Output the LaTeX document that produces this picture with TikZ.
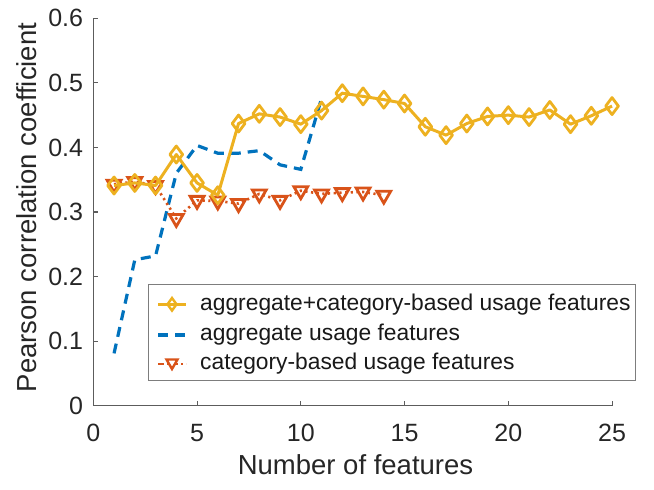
\documentclass[tikz,border=0pt]{standalone}
\usepackage{fontspec}
\setmainfont{Liberation Sans}
\usetikzlibrary{plotmarks}
\definecolor{morange}{HTML}{EDB120}
\definecolor{mblue}{HTML}{0072BD}
\definecolor{mred}{HTML}{D95319}
\definecolor{axgray}{HTML}{262626}
\tikzset{
  axisline/.style={draw=axgray!75, line width=1.1pt},
  ticklabel/.style={text=axgray, font=\fontsize{25}{28}\selectfont, inner sep=0pt},
  axislabel/.style={text=axgray, font=\fontsize{27.5}{30}\selectfont, inner sep=0pt},
  legtext/.style={text=black!90, font=\fontsize{22.8}{26}\selectfont, inner sep=0pt, anchor=west},
  combo/.style={morange, line width=3pt, line join=round, mark=diamond, mark size=8.5pt,
    mark options={solid, line width=2.8pt}},
  aggr/.style={mblue, line width=3.2pt, dash pattern=on 10pt off 7pt},
  categ/.style={mred, line width=2.6pt, dash pattern=on 2.2pt off 3.5pt, mark=triangle, mark size=8pt,
    mark options={solid, rotate=180, line width=2.8pt}},
}
\begin{document}
\begin{tikzpicture}[x=1pt,y=1pt]
\useasboundingbox (0,0) rectangle (654,490);
\begin{scope}[shift={(93.3,84.3)}, x=20.75pt, y=645.7pt]
  % axes
  \draw[axisline] (0,0.6) -- (0,0) -- (25,0);
  \foreach \t in {5,10,...,25} {
    \draw[axisline] (\t,0) -- ++(0,5pt);
  }
  \foreach \t in {0.1,0.2,0.3,0.4,0.5,0.6} {
    \draw[axisline] (0,\t) -- ++(5pt,0);
  }
  \foreach \t in {0,5,10,15,20,25} {
    \node[ticklabel] (xt\t) at (\t,-0.0425) {\t};
  }
  \foreach \t/\l in {0/0,0.1/0.1,0.2/0.2,0.3/0.3,0.4/0.4,0.5/0.5,0.6/0.6} {
    \node[ticklabel, anchor=east] (yt\l) at ([xshift=-10pt]0,\t) {\l};
  }
  % data
  \draw[aggr] plot coordinates {(1,0.081) (2,0.226) (3,0.232) (4,0.36) (5,0.403) (6,0.391) (7,0.391) (8,0.395) (9,0.373) (10,0.366) (11,0.476)};
  \draw[categ] plot coordinates {(1,0.343) (2,0.347) (3,0.341) (4,0.29) (5,0.318) (6,0.317) (7,0.313) (8,0.328) (9,0.318) (10,0.333) (11,0.328) (12,0.330) (13,0.331) (14,0.326)};
  \draw[combo] plot coordinates {(1,0.341) (2,0.345) (3,0.341) (4,0.389) (5,0.345) (6,0.326) (7,0.437) (8,0.452) (9,0.447) (10,0.436) (11,0.457) (12,0.484) (13,0.479) (14,0.474) (15,0.468) (16,0.432) (17,0.419) (18,0.437) (19,0.448) (20,0.450) (21,0.447) (22,0.458) (23,0.436) (24,0.449) (25,0.464)};
\end{scope}
% axis labels
\node[axislabel] (xlab) at (355.5,25) {Number of features};
\node[axislabel, rotate=90] (ylab) at (27,282.5) {Pearson correlation coefficient};
% legend
\node[draw=axgray!60, line width=1pt, fill=white, minimum width=487.3pt, minimum height=95.7pt, anchor=north west, inner sep=0pt] (legend) at (147.7,205.7) {};
\coordinate (l1a) at (158,185.7); \coordinate (l1b) at (186,185.7);
\coordinate (l2a) at (158,155); \coordinate (l2b) at (186,155);
\coordinate (l3a) at (158,126); \coordinate (l3b) at (186,126);
\draw[morange, line width=3pt] (l1a) -- (l1b);
\draw[morange, line width=2.4pt] (172,192) -- (176.5,185.7) -- (172,179.4) -- (167.5,185.7) -- cycle;
\draw[aggr] (l2a) -- (l2b);
\draw[mred, line width=2.6pt, dash pattern=on 6pt off 3pt on 2pt off 3pt] (l3a) -- (l3b);
\draw[mred, line width=2.4pt, fill=white] (172,121) -- (177.5,130.5) -- (166.5,130.5) -- cycle;
\node[legtext] (t1) at (200,185.7) {aggregate+category-based usage features};
\node[legtext] (t2) at (200,155) {aggregate usage features};
\node[legtext] (t3) at (200,126) {category-based usage features};
\end{tikzpicture}
\end{document}
